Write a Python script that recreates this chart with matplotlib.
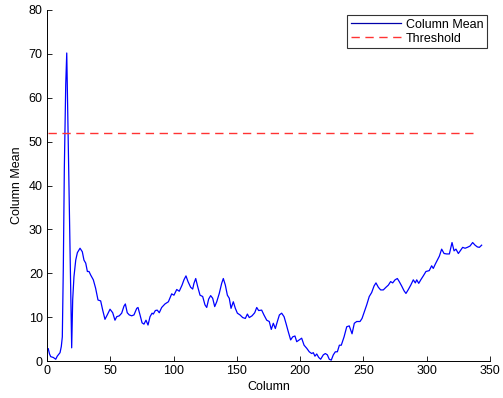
import matplotlib
matplotlib.use("Agg")
import matplotlib.pyplot as plt

# Column index and mean intensity per column
column = [
    1, 2, 2.9, 5, 6.9, 8.1, 10.3, 11.3, 12.1, 12.9, 13.7, 14.8, 15.6, 19.5,
    20.3, 21.3, 22.7, 24.0, 26.1, 27.9, 29.2, 30.6, 31.9, 33.2, 34.5, 36.6,
    38.4, 40.3, 42.4, 44.0, 45.8, 47.6, 49.8,
    51.9, 53.7, 55.1, 57.1, 59.0, 60.8, 61.9, 63.4, 65.0, 66.9, 68.7, 70.9,
    71.9, 73.5, 75.1, 76.6, 78.2, 79.8, 81.4, 83.0, 84.0, 85.6, 87.1, 88.7,
    90.6, 93.2, 95.9, 98.5, 100.3, 102.5, 104.5, 106.7, 108.2, 109.8, 111.4,
    113.5, 115.1, 116.1, 117.5, 119.1, 120.9, 123.0, 124.8, 126.2, 127.7,
    129.3, 130.9, 132.5, 134.1, 136.1, 138.0, 139.3, 140.9, 142.5, 144.0,
    145.4, 147.2, 148.8, 150.4, 152.5, 154.6, 156.7, 158.3, 159.8, 162.0,
    164.1, 165.7, 167.2, 169.6, 171.4, 173.6, 175.6, 177.2, 178.8, 180.4,
    182.0, 183.6, 185.4, 187.3, 188.8, 190.6, 192.5, 194.1, 195.9, 197.3,
    199.3, 201.2, 203.1, 205.2, 207.2, 209.1, 210.4, 211.7, 213.1, 214.7,
    216.2, 218.3, 219.9, 221.5, 223.0, 224.6, 226.2, 227.8, 229.4, 231.0,
    232.5, 234.7, 236.8, 238.8, 241.0, 242.8, 244.7, 247.3, 248.9, 250.7,
    252.6, 254.6, 256.5, 258.4, 259.9, 261.8, 263.6, 265.7, 267.8, 269.7,
    271.5, 273.1, 275.0, 276.8, 278.3, 280.2, 282.1, 283.6, 285.5, 287.4,
    289.4, 291.0, 292.1, 293.7, 295.3, 297.3, 299.4, 302.0, 303.9, 305.2,
    306.8, 308.4, 310.0, 311.8, 313.7, 315.8, 317.9, 320.0, 321.6, 323.1,
    325.0, 326.9, 328.4, 330.3, 332.1, 334.2, 336.3, 338.2, 340.0, 341.6,
    343.4,
]
column_mean = [
    2.8, 1.6, 1.0, 0.8, 0.4, 1.1, 1.9, 3.3, 5.5, 21.5, 44.0, 63.0, 70.2, 3.0,
    14.0, 19.2, 23.0, 24.7, 25.7, 24.9, 23.0, 22.3, 20.4, 20.4, 19.6, 18.5,
    16.6, 13.9, 13.7, 11.6, 9.5, 10.5, 11.8,
    11.0, 9.3, 10.1, 10.3, 10.9, 12.5, 13.0, 11.0, 10.5, 10.3, 10.5, 12.0,
    12.2, 10.5, 8.7, 8.4, 9.3, 8.2, 10.1, 10.9, 10.7, 11.5, 11.6, 11.0,
    12.2, 13.0, 13.5, 15.3, 15.0, 16.3, 15.9, 17.3, 18.5, 19.4, 18.1,
    16.8, 16.4, 17.7, 18.8, 16.9, 15.0, 14.7, 12.8, 12.2, 14.1,
    14.9, 14.3, 12.4, 13.5, 15.4, 17.7, 18.8, 17.3, 15.0, 14.3,
    12.0, 13.5, 12.0, 10.9, 10.5, 9.9, 9.7, 10.7, 9.9, 10.3,
    11.0, 12.2, 11.5, 11.6, 10.5, 9.3, 9.0, 7.2, 8.6, 7.4,
    9.0, 10.5, 10.9, 10.1, 8.6, 6.7, 4.8, 5.5, 5.7, 4.4,
    4.8, 5.2, 3.6, 2.9, 2.1, 1.7, 1.9, 1.1, 1.6, 0.8,
    0.4, 1.4, 1.7, 1.4, 0.4, 0.2, 1.4, 2.1, 2.1, 3.6,
    3.6, 5.5, 7.8, 8.0, 6.2, 8.6, 9.0, 9.0, 9.7, 11.2,
    12.8, 14.7, 15.6, 17.1, 17.8, 16.8, 16.2, 16.2, 16.8, 17.3,
    18.1, 17.8, 18.5, 18.8, 18.1, 17.1, 16.0, 15.4, 16.3, 17.3,
    18.5, 17.8, 18.5, 17.7, 18.5, 19.4, 20.4, 20.6, 21.7, 21.1,
    22.1, 23.0, 23.9, 25.5, 24.5, 24.4, 24.4, 27.0, 25.1, 25.5,
    24.5, 25.3, 25.9, 25.7, 25.9, 26.2, 27.0, 26.4, 26.0, 25.9,
    26.4,
]

threshold = 52
threshold_span = [1, 338]

x_ticks = [0, 50, 100, 150, 200, 250, 300, 350]
y_ticks = [0, 10, 20, 30, 40, 50, 60, 70, 80]

plt.rcParams["font.family"] = ["Liberation Sans", "DejaVu Sans"]

fig = plt.figure(figsize=(5.03, 3.98), dpi=100)
ax = fig.add_axes([47 / 503, 37 / 398, 443 / 503, 351 / 398])

ax.plot(column, column_mean, color="#0000ff", lw=0.9, label="Column Mean")
ax.plot(threshold_span, [threshold, threshold], color="#ff3333", lw=1.0,
        linestyle=(0, (6, 4)), label="Threshold")

ax.set_xlim(0, 350)
ax.set_ylim(0, 80)
ax.set_xticks(x_ticks)
ax.set_yticks(y_ticks)
ax.tick_params(direction="in", length=3.5, width=0.6, labelsize=9,
               colors="black", pad=3)
for side in ("top", "right"):
    ax.spines[side].set_visible(False)
for side in ("left", "bottom"):
    ax.spines[side].set_linewidth(0.7)

ax.set_xlabel("Column", fontsize=9, labelpad=2.5)
ax.set_ylabel("Column Mean", fontsize=9, labelpad=4)

leg = ax.legend(loc="upper right", bbox_to_anchor=(0.994, 0.986),
                fontsize=9, frameon=True, fancybox=False,
                edgecolor="black", handlelength=4.0, handletextpad=0.4,
                borderpad=0.3, labelspacing=0.15, borderaxespad=0)
leg.get_frame().set_linewidth(0.8)
leg.get_lines()[0].set_color("#0000aa")

fig.savefig("out.png", dpi=100)
